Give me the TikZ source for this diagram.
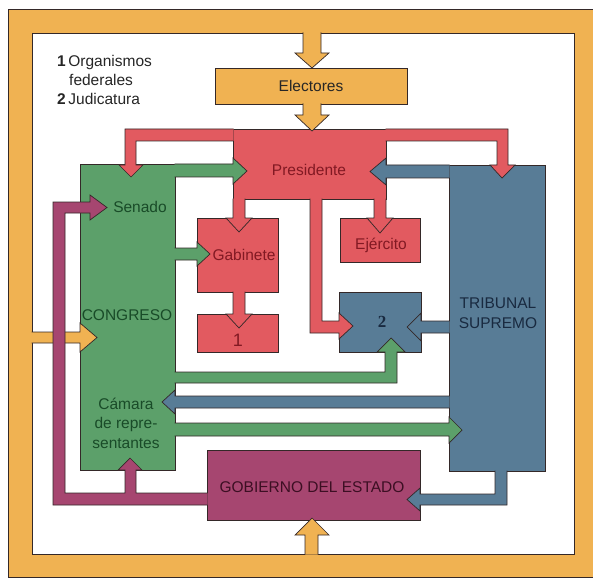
\documentclass[tikz,border=0pt]{standalone}
\usepackage{fontspec}
\setmainfont{Liberation Sans}
\newfontfamily\numfont{Liberation Serif}
\usetikzlibrary{positioning}
\definecolor{frameorange}{RGB}{240,178,82}
\definecolor{presred}{RGB}{226,90,96}
\definecolor{congreen}{RGB}{92,160,106}
\definecolor{tribblue}{RGB}{88,124,150}
\definecolor{gobpurple}{RGB}{166,70,112}
\definecolor{edge}{RGB}{52,40,40}
\definecolor{redtext}{RGB}{130,25,35}
\definecolor{greentext}{RGB}{25,75,40}
\definecolor{bluetext}{RGB}{25,42,64}
\definecolor{purpletext}{RGB}{60,15,35}
\tikzset{
  outline/.style={draw=edge, line width=0.7pt},
  body/.style={outline, rectangle, inner sep=0pt, outer sep=0pt, anchor=north west},
  blockarrow/.style={outline, fill=#1},
  txt/.style={font=\fontsize{15.5}{19.5}\selectfont, inner sep=0pt, align=center}
}

\begin{document}
\begin{tikzpicture}[x=1pt, y=-1pt]
  \useasboundingbox (0,0) rectangle (593,577);
  % frame
  \filldraw[outline, fill=frameorange] (8,9) rectangle (593,577);
  \filldraw[outline, fill=white] (32,33) rectangle (574,554);

  % bodies
  \node[body, fill=frameorange, minimum width=192pt, minimum height=36pt, txt, text=black!85] (elect) at (215,68) {Electores};
  \node[body, fill=presred, minimum width=153pt, minimum height=70pt] (pres) at (233,129) {};
  \node[body, fill=congreen, minimum width=95pt, minimum height=306pt] (congreso) at (80,164) {};
  \node[body, fill=tribblue, minimum width=96pt, minimum height=306pt] (tribunal) at (449,165) {};
  \node[body, fill=presred, minimum width=81pt, minimum height=74pt] (gabinete) at (197,218) {};
  \node[body, fill=presred, minimum width=81pt, minimum height=38pt] (federal) at (197,314) {};
  \node[body, fill=presred, minimum width=80pt, minimum height=44pt] (ejercito) at (340,218) {};
  \node[body, fill=tribblue, minimum width=82pt, minimum height=60pt] (judic) at (339,292) {};
  \node[body, fill=gobpurple, minimum width=213pt, minimum height=70pt] (gobierno) at (207,450) {};

  % orange arrows
  \filldraw[blockarrow=frameorange] (303,32.5) -- (303,53) -- (295,53) -- (312,68) -- (329,53) -- (321,53) -- (321,32.5);
  \filldraw[blockarrow=frameorange] (303,103.5) -- (303,115) -- (295,115) -- (312,131) -- (329,115) -- (321,115) -- (321,103.5);
  \filldraw[blockarrow=frameorange] (305,554.5) -- (305,535) -- (295,535) -- (312,518) -- (329,535) -- (318,535) -- (318,554.5);
  \filldraw[blockarrow=frameorange] (31.5,332) -- (80,332) -- (80,323) -- (97,337.5) -- (80,352) -- (80,343) -- (31.5,343);

  % red arrows
  \filldraw[blockarrow=presred] (233.5,129) -- (125,129) -- (125,165) -- (119,165) -- (131,177) -- (143,165) -- (136,165) -- (136,141) -- (233.5,141);
  \filldraw[blockarrow=presred] (385.5,129) -- (508,129) -- (508,165) -- (515,165) -- (502,178) -- (490,165) -- (497,165) -- (497,141) -- (385.5,141);
  \filldraw[blockarrow=presred] (233,198.5) -- (233,218) -- (226,218) -- (239,232) -- (252,218) -- (245,218) -- (245,198.5);
  \filldraw[blockarrow=presred] (233,291.5) -- (233,314) -- (226,314) -- (239,328) -- (252,314) -- (245,314) -- (245,291.5);
  \filldraw[blockarrow=presred] (310,198.5) -- (310,333) -- (339,333) -- (339,339) -- (353,326) -- (339,313) -- (339,321) -- (322,321) -- (322,198.5);
  \filldraw[blockarrow=presred] (374,198.5) -- (374,218) -- (367,218) -- (380,233) -- (393,218) -- (386,218) -- (386,198.5);

  % green arrows
  \filldraw[blockarrow=congreen] (174.5,164) -- (233,164) -- (233,158) -- (247,171) -- (233,184) -- (233,177) -- (174.5,177);
  \filldraw[blockarrow=congreen] (174.5,248) -- (197,248) -- (197,242) -- (210,254) -- (197,266) -- (197,260) -- (174.5,260);
  \filldraw[blockarrow=congreen] (174.5,372) -- (385,372) -- (385,352) -- (377,352) -- (391,338) -- (405,352) -- (397,352) -- (397,383) -- (174.5,383);
  \filldraw[blockarrow=congreen] (174.5,423) -- (449,423) -- (449,417) -- (462,430) -- (449,443) -- (449,436) -- (174.5,436);

  % blue arrows
  \filldraw[blockarrow=tribblue] (449.5,165) -- (386,165) -- (386,158) -- (370,171.5) -- (386,185) -- (386,178) -- (449.5,178);
  \filldraw[blockarrow=tribblue] (449.5,321) -- (421,321) -- (421,313) -- (407,327) -- (421,341) -- (421,333) -- (449.5,333);
  \filldraw[blockarrow=tribblue] (449.5,396) -- (175,396) -- (175,390) -- (162,402) -- (175,414) -- (175,408) -- (449.5,408);
  \filldraw[blockarrow=tribblue] (495,470.5) -- (495,494) -- (420,494) -- (420,488) -- (407,499.5) -- (420,511) -- (420,505) -- (507,505) -- (507,470.5);

  % purple arrow
  \filldraw[blockarrow=gobpurple] (207.5,493) -- (136,493) -- (136,470) -- (142,470) -- (130,458) -- (118,470) -- (125,470) -- (125,493) -- (65,493) -- (65,213) -- (90,213) -- (90,220) -- (107,207.5) -- (90,195) -- (90,202) -- (53,202) -- (53,505) -- (207.5,505);

  % labels
  \node[txt, text=redtext] (presidente) at (309,170) {Presidente};
  \node[txt, text=redtext] (gablabel) at (244,255) {Gabinete};
  \node[txt, text=redtext, font=\fontsize{18}{20}\selectfont] (onelabel) at (238,340) {1};
  \node[txt, text=redtext] (ejelabel) at (381,245) {Ejército};
  \node[txt, text=bluetext, font=\numfont\bfseries\fontsize{17}{20}\selectfont] (twolabel) at (382,322) {2};
  \node[txt, text=greentext] (senado) at (140,207) {Senado};
  \node[txt, text=greentext] (conglabel) at (127,315) {CONGRESO};
  \node[txt, text=greentext] (camara) at (126,423) {Cámara\\de repre-\\sentantes};
  \node[txt, text=bluetext] (triblabel) at (498,313) {TRIBUNAL\\SUPREMO};
  \node[txt, text=purpletext] (goblabel) at (312,487) {GOBIERNO DEL ESTADO};

  % key
  \node[txt, anchor=base west, text=black!85] (key1) at (57,67) {\textbf{1}\,Organismos};
  \node[txt, anchor=base west, text=black!85] (key1b) at (69,86) {federales};
  \node[txt, anchor=base west, text=black!85] (key2) at (57,105) {\textbf{2}\,Judicatura};
\end{tikzpicture}
\end{document}
